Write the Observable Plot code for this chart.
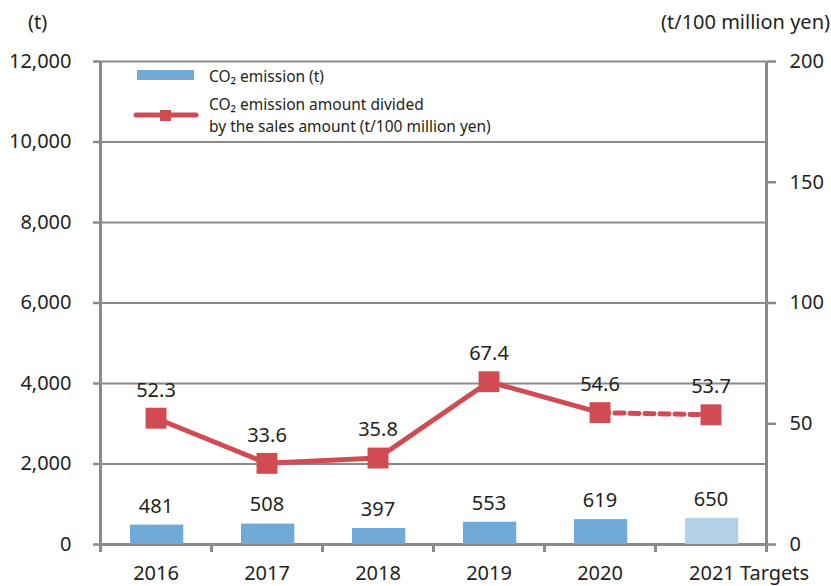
<!DOCTYPE html>
<html><head><meta charset="utf-8">
<script src="https://cdn.jsdelivr.net/npm/d3@7"></script>
<script src="https://cdn.jsdelivr.net/npm/@observablehq/plot@0.6"></script>
<style>
body{margin:0;background:#fff;font-family:"Noto Sans",sans-serif;color:#231f20}
#wrap{position:relative;width:831px;height:586px}
.unit{position:absolute;top:8px;font-size:20px;line-height:28px}
.leg{position:absolute;font-size:15.5px;line-height:22px;white-space:nowrap}
</style></head><body>
<div id="wrap"></div>
<script>
const categories = ["2016","2017","2018","2019","2020","2021 Targets"];
const emissions = [481,508,397,553,619,650];
const intensity = [52.3,33.6,35.8,67.4,54.6,53.7];
const isTarget = [false,false,false,false,false,true];
const leftTicks = [0,2000,4000,6000,8000,10000,12000];
const rightTicks = [0,50,100,150,200];
const leftMax = 12000, rightMax = 200;
const k = leftMax / rightMax;

const RED = "#d04b52", BLUE = "#6faad8", LIGHT = "#b5d0e9", GRAY = "#8a8a8a", INK = "#231f20";

const data = categories.map((c, i) => ({i, c, e: emissions[i], r: intensity[i], t: isTarget[i]}));
const actual = data.filter(d => !d.t);
const target = data.filter(d => d.t);
const lastTwo = data.slice(-2);
const cx = d => d.i + 0.5;
const ry = d => d.r * k;

const plot = Plot.plot({
  width: 831, height: 586,
  marginLeft: 100, marginRight: 65, marginTop: 61, marginBottom: 42,
  style: {fontFamily: "Noto Sans", fontSize: "20px", color: INK, background: "transparent"},
  x: {domain: [0, categories.length], axis: null},
  y: {domain: [0, leftMax], axis: null},
  marks: [
    Plot.ruleY(leftTicks, {stroke: GRAY, strokeWidth: 2}),
    Plot.axisY({ticks: leftTicks, label: null, tickSize: 7, tickPadding: 22, tickFormat: d3.format(","), stroke: GRAY, strokeWidth: 2.5, fill: INK, fontSize: 20}),
    Plot.axisY({anchor: "right", label: null, ticks: rightTicks.map(v => v * k), tickFormat: d => String(d / k), tickSize: 9, tickPadding: 14, stroke: GRAY, strokeWidth: 2.5, fill: INK, fontSize: 20}),
    Plot.axisX({ticks: d3.range(0, categories.length + 1), label: null, tickSize: 8, tickFormat: () => "", stroke: GRAY, strokeWidth: 3}),
    Plot.text(actual, {x: cx, y: 0, text: "c", dy: 29, fontSize: 20, fill: INK}),
    Plot.text(target, {x: cx, y: 0, text: "c", dy: 29, dx: -22, textAnchor: "start", fontSize: 20, fill: INK, letterSpacing: "-0.3px"}),
    Plot.ruleX([0, categories.length], {stroke: GRAY, strokeWidth: 3}),
    Plot.ruleY([0], {stroke: GRAY, strokeWidth: 3}),
    Plot.rectY(data, {x1: d => d.i + 0.27, x2: d => d.i + 0.75, y: "e", fill: d => d.t ? LIGHT : BLUE}),
    Plot.text(data, {x: cx, y: "e", text: d => String(d.e), dy: -19, fontSize: 20, fill: INK}),
    Plot.line(actual, {x: cx, y: ry, stroke: RED, strokeWidth: 5}),
    Plot.line(lastTwo, {x: cx, y: ry, stroke: RED, strokeWidth: 5, strokeDasharray: "9,6"}),
    Plot.dot(data, {x: cx, y: ry, symbol: "square", r: 11.8, fill: RED, stroke: null}),
    Plot.text(data, {x: cx, y: ry, text: d => d.r.toFixed(1), dy: -28, fontSize: 20, fill: INK})
  ]
});

const wrap = document.getElementById("wrap");
wrap.appendChild(plot);
wrap.insertAdjacentHTML("beforeend", `
  <div class="unit" style="left:28px">(t)</div>
  <div class="unit" style="right:1px">(t/100 million yen)</div>
  <div style="position:absolute;left:137px;top:70px;width:57px;height:10px;background:${BLUE}"></div>
  <svg style="position:absolute;left:132px;top:108px" width="68" height="14">
    <line x1="4" y1="7" x2="64" y2="7" stroke="${RED}" stroke-width="5" stroke-linecap="round"/>
    <rect x="28" y="2" width="11" height="11" fill="${RED}"/>
  </svg>
  <div class="leg" style="left:209px;top:65px">CO₂ emission (t)</div>
  <div class="leg" style="left:209px;top:93px">CO₂ emission amount divided<br>by the sales amount (t/100 million yen)</div>
`);
</script>
</body></html>
